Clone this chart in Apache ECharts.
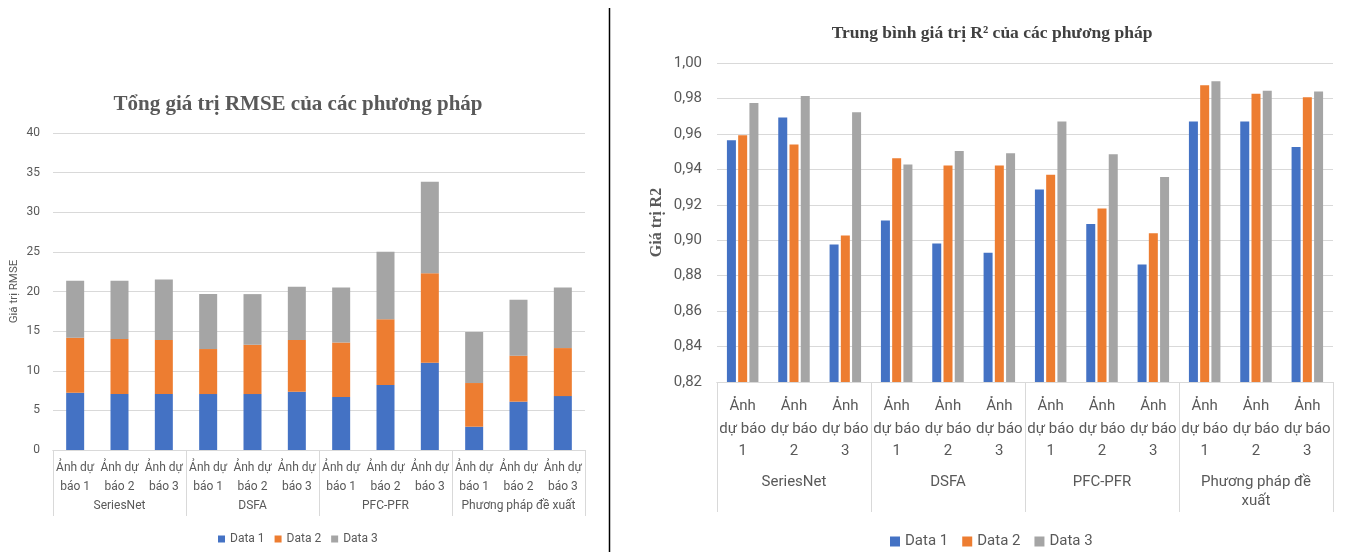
<!DOCTYPE html>
<html><head><meta charset="utf-8">
<script src="https://cdn.jsdelivr.net/npm/echarts@6/dist/echarts.min.js"></script>
<style>html,body{margin:0;padding:0;background:#fff}#c{width:1352px;height:552px}</style>
</head><body><div id="c"></div>
<script>
const subCats = ['Ảnh dự báo 1','Ảnh dự báo 2','Ảnh dự báo 3','Ảnh dự báo 1','Ảnh dự báo 2','Ảnh dự báo 3','Ảnh dự báo 1','Ảnh dự báo 2','Ảnh dự báo 3','Ảnh dự báo 1','Ảnh dự báo 2','Ảnh dự báo 3'];
const groups = ['SeriesNet','DSFA','PFC-PFR','Phương pháp đề xuất'];
const seriesNames = ['Data 1','Data 2','Data 3'];
// RMSE (stacked)
const rmse1 = [7.23, 7.06, 7.06, 7.06, 7.06, 7.36, 6.68, 8.2, 11.0, 2.94, 6.1, 6.8];
const rmse2 = [6.94, 6.94, 6.81, 5.68, 6.22, 6.51, 6.9, 8.3, 11.3, 5.51, 5.8, 6.06];
const rmse3 = [7.18, 7.35, 7.63, 6.93, 6.39, 6.73, 6.92, 8.5, 11.55, 6.43, 7.06, 7.64];
// R2
const r2_1 = [0.9564, 0.9692, 0.8976, 0.9111, 0.8982, 0.8929, 0.9286, 0.9092, 0.8863, 0.967, 0.967, 0.9526];
const r2_2 = [0.9592, 0.954, 0.9027, 0.9463, 0.9422, 0.9422, 0.9369, 0.9179, 0.904, 0.9874, 0.9827, 0.9807];
const r2_3 = [0.9774, 0.9814, 0.9722, 0.9427, 0.9504, 0.9491, 0.967, 0.9485, 0.9357, 0.9897, 0.9844, 0.9839];
const rmseTicks = {min: 0, max: 40, interval: 5};
const r2Ticks = {min: 0.82, max: 1.0, interval: 0.02};

const colors = ['#4472C4', '#ED7D31', '#A5A5A5'];
const txt = '#595959';
const line = '#d9d9d9';
const sans = 'Roboto';
const serif = 'Liberation Serif';

const chart = echarts.init(document.getElementById('c'));
const leftLabels = subCats.map(s => s.replace('dự báo', 'dự\nbáo'));
const rightLabels = subCats.map(s => s.replace('Ảnh dự báo ', 'Ảnh\ndự báo\n'));
const rightGroups = groups.map(g => g === 'Phương pháp đề xuất' ? 'Phương pháp đề\nxuất' : g);

chart.setOption({
  animation: false,
  color: colors,
  title: [
    {text: 'Tổng giá trị RMSE của các phương pháp', left: 293, top: 89, textAlign: 'center',
     textStyle: {fontFamily: serif, fontWeight: 'bold', fontSize: 21, color: txt}},
    {text: 'Trung bình giá trị R² của các phương pháp', left: 987, top: 19, textAlign: 'center',
     textStyle: {fontFamily: serif, fontWeight: 'bold', fontSize: 17.5, color: '#404040'}}
  ],
  legend: [
    {data: seriesNames, left: 213, top: 528, icon: 'rect', itemWidth: 7, itemHeight: 7, itemGap: 10,
     textStyle: {fontFamily: sans, fontSize: 12, color: txt}},
    {data: seriesNames, left: 885, top: 529, icon: 'rect', itemWidth: 10, itemHeight: 10, itemGap: 14,
     textStyle: {fontFamily: sans, fontSize: 15, color: txt}}
  ],
  grid: [
    {left: 53, right: 767, top: 133, bottom: 102},
    {left: 717, right: 19, top: 63, bottom: 170}
  ],
  xAxis: [
    {type: 'category', gridIndex: 0, data: leftLabels, position: 'bottom',
     axisLine: {lineStyle: {color: line}}, axisTick: {show: false},
     axisLabel: {interval: 0, margin: 8, fontFamily: sans, fontSize: 12, lineHeight: 19, color: txt}},
    {type: 'category', gridIndex: 0, data: groups, position: 'bottom',
     axisLine: {lineStyle: {color: line}}, axisTick: {show: true, length: 66, interval: 0, lineStyle: {color: line}},
     axisLabel: {interval: 0, margin: 50, fontFamily: sans, fontSize: 12, color: txt}},
    {type: 'category', gridIndex: 1, data: rightLabels, position: 'bottom',
     axisLine: {lineStyle: {color: line}}, axisTick: {show: false},
     axisLabel: {interval: 0, margin: 13, fontFamily: sans, fontSize: 15, lineHeight: 22.5, color: txt}},
    {type: 'category', gridIndex: 1, data: rightGroups, position: 'bottom',
     axisLine: {lineStyle: {color: line}}, axisTick: {show: true, length: 130, interval: 0, lineStyle: {color: line}},
     axisLabel: {interval: 0, margin: 91, fontFamily: sans, fontSize: 15, lineHeight: 19, color: txt}}
  ],
  yAxis: [
    {type: 'value', gridIndex: 0, min: rmseTicks.min, max: rmseTicks.max, interval: rmseTicks.interval,
     name: 'Giá trị RMSE', nameLocation: 'middle', nameGap: 33,
     nameTextStyle: {fontFamily: sans, fontSize: 11.5, color: txt},
     axisLine: {show: false}, axisTick: {show: false},
     axisLabel: {margin: 13, fontFamily: sans, fontSize: 12, color: txt},
     splitLine: {lineStyle: {color: line}}},
    {type: 'value', gridIndex: 1, min: r2Ticks.min, max: r2Ticks.max, interval: r2Ticks.interval,
     name: 'Giá trị R2', nameLocation: 'middle', nameGap: 52,
     nameTextStyle: {fontFamily: serif, fontWeight: 'bold', fontSize: 16, color: txt},
     axisLine: {show: false}, axisTick: {show: false},
     axisLabel: {margin: 15, fontFamily: sans, fontSize: 15, color: txt,
       formatter: v => v.toFixed(2).replace('.', ',')},
     splitLine: {lineStyle: {color: line}}}
  ],
  graphic: [
    {type: 'line', shape: {x1: 609.5, y1: 8, x2: 609.5, y2: 552}, style: {stroke: '#000', lineWidth: 1.5}}
  ],
  series: [
    {name: 'Data 1', type: 'bar', stack: 'rmse', xAxisIndex: 0, yAxisIndex: 0, data: rmse1, barWidth: 18},
    {name: 'Data 2', type: 'bar', stack: 'rmse', xAxisIndex: 0, yAxisIndex: 0, data: rmse2, barWidth: 18},
    {name: 'Data 3', type: 'bar', stack: 'rmse', xAxisIndex: 0, yAxisIndex: 0, data: rmse3, barWidth: 18},
    {name: 'Data 1', type: 'bar', xAxisIndex: 2, yAxisIndex: 1, data: r2_1, barWidth: 9, barGap: '25%'},
    {name: 'Data 2', type: 'bar', xAxisIndex: 2, yAxisIndex: 1, data: r2_2, barWidth: 9, barGap: '25%'},
    {name: 'Data 3', type: 'bar', xAxisIndex: 2, yAxisIndex: 1, data: r2_3, barWidth: 9, barGap: '25%'}
  ]
});
</script></body></html>
